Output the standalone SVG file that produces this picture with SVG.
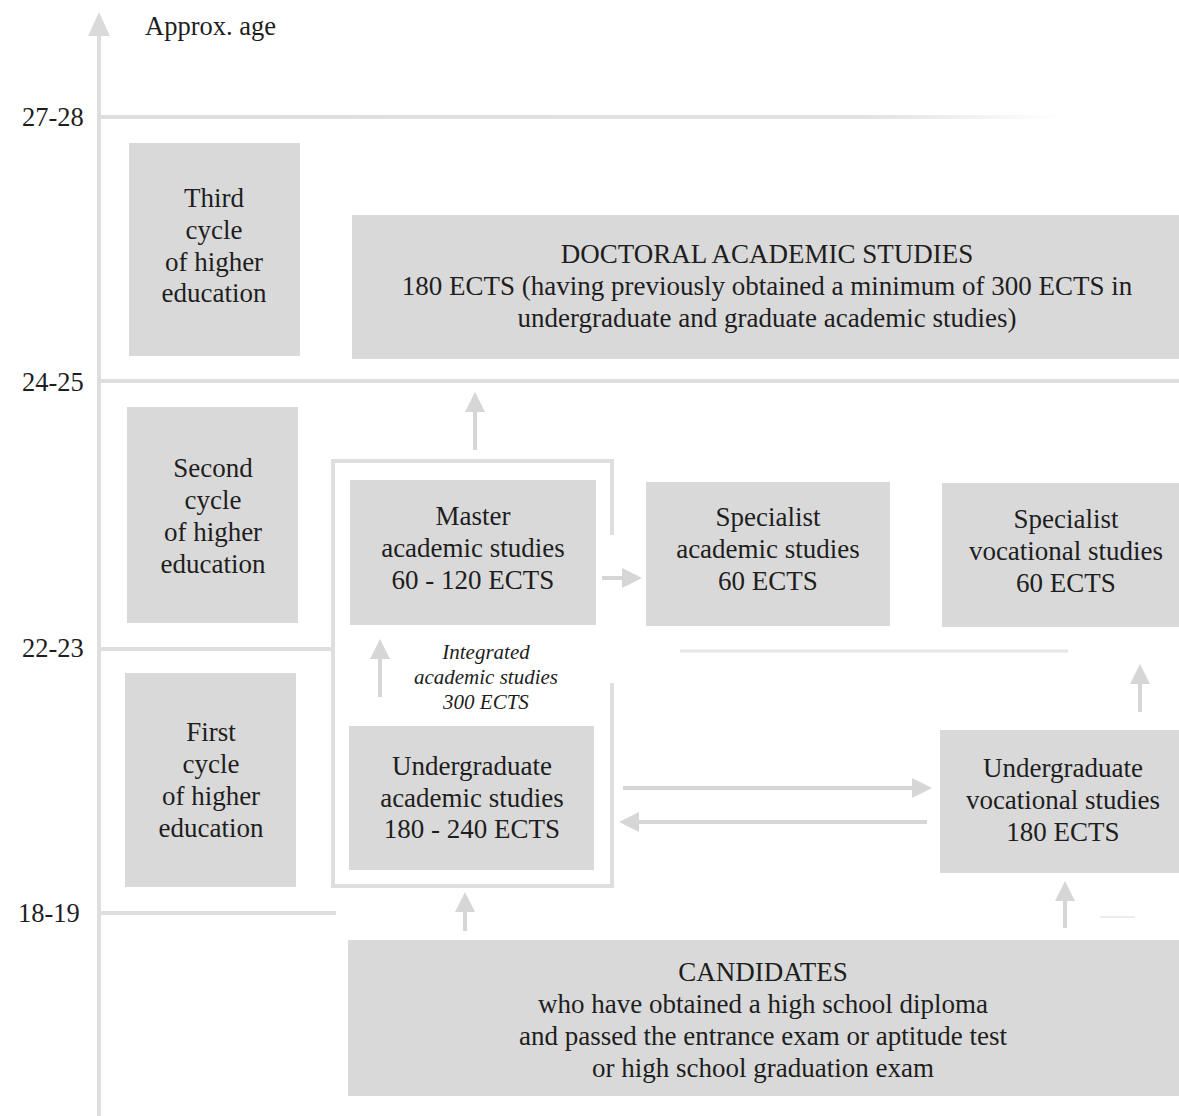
<svg xmlns="http://www.w3.org/2000/svg" width="1179" height="1116" viewBox="0 0 1179 1116">
  <defs>
    <style>
      .box { fill: #d9d9d9; }
      .t { font-family: "Liberation Serif", "DejaVu Serif", serif; font-size: 27px; fill: #1e1e1e; text-anchor: middle; }
      .age { font-family: "Liberation Serif", "DejaVu Serif", serif; font-size: 26.5px; fill: #1e1e1e; }
      .it { font-family: "Liberation Serif", "DejaVu Serif", serif; font-size: 21px; font-style: italic; fill: #1e1e1e; text-anchor: middle; }
      .grid { stroke: #dedede; stroke-width: 4; fill: none; }
      .conn { stroke: #d6d6d6; stroke-width: 4; fill: none; }
      .head { fill: #d6d6d6; }
    </style>
    <linearGradient id="fade" x1="0" y1="0" x2="1" y2="0">
      <stop offset="0" stop-color="#dedede"/>
      <stop offset="0.8" stop-color="#e2e2e2"/>
      <stop offset="1" stop-color="#ffffff"/>
    </linearGradient>
    <marker id="ah" viewBox="0 0 10 10" refX="8" refY="5" markerWidth="5" markerHeight="5" orient="auto" markerUnits="strokeWidth">
      <path d="M0,0 L10,5 L0,10 z" class="head"/>
    </marker>
  </defs>

  <rect width="1179" height="1116" fill="#ffffff"/>

  <!-- axis and grid -->
  <g id="axis">
    <line x1="99" y1="30" x2="99" y2="1116" class="grid"/>
    <polygon points="99,12 88,36 110,36" fill="#dadada"/>
    <text x="145" y="35" class="age">Approx. age</text>
    <rect x="101" y="115" width="960" height="4" fill="url(#fade)"/>
    <line x1="101" y1="381" x2="1179" y2="381" class="grid"/>
    <line x1="101" y1="649" x2="333" y2="649" class="grid"/>
    <line x1="680" y1="651" x2="1068" y2="651" stroke="#e6e6e6" stroke-width="3"/>
    <line x1="101" y1="913" x2="336" y2="913" class="grid"/>
    <line x1="1100" y1="917" x2="1135" y2="917" stroke="#ececec" stroke-width="2"/>
    <text x="22" y="126" class="age">27-28</text>
    <text x="22" y="391" class="age">24-25</text>
    <text x="22" y="657" class="age">22-23</text>
    <text x="18" y="922" class="age">18-19</text>
  </g>

  <!-- integrated frame -->
  <g id="integrated">
    <path d="M612,535 L612,461 L333,461 L333,886 L612,886 L612,683" class="grid"/>
    <text class="it" x="486" y="659">Integrated</text>
    <text class="it" x="486" y="684">academic studies</text>
    <text class="it" x="486" y="709">300 ECTS</text>
  </g>

  <g id="third-cycle">
    <rect class="box" x="129" y="143" width="171" height="213"/>
    <text class="t" x="214" y="207">Third</text>
    <text class="t" x="214" y="239">cycle</text>
    <text class="t" x="214" y="271">of higher</text>
    <text class="t" x="214" y="302">education</text>
  </g>

  <g id="doctoral">
    <rect class="box" x="352" y="215" width="827" height="144"/>
    <text class="t" x="767" y="263">DOCTORAL ACADEMIC STUDIES</text>
    <text class="t" x="767" y="295">180 ECTS (having previously obtained a minimum of 300 ECTS in</text>
    <text class="t" x="767" y="327">undergraduate and graduate academic studies)</text>
  </g>

  <g id="second-cycle">
    <rect class="box" x="127" y="407" width="171" height="216"/>
    <text class="t" x="213" y="477">Second</text>
    <text class="t" x="213" y="509">cycle</text>
    <text class="t" x="213" y="541">of higher</text>
    <text class="t" x="213" y="573">education</text>
  </g>

  <g id="master">
    <rect class="box" x="350" y="480" width="246" height="145"/>
    <text class="t" x="473" y="525">Master</text>
    <text class="t" x="473" y="557">academic studies</text>
    <text class="t" x="473" y="589">60 - 120 ECTS</text>
  </g>

  <g id="specialist-academic">
    <rect class="box" x="646" y="482" width="244" height="144"/>
    <text class="t" x="768" y="526">Specialist</text>
    <text class="t" x="768" y="558">academic studies</text>
    <text class="t" x="768" y="590">60 ECTS</text>
  </g>

  <g id="specialist-vocational">
    <rect class="box" x="942" y="483" width="237" height="144"/>
    <text class="t" x="1066" y="528">Specialist</text>
    <text class="t" x="1066" y="560">vocational studies</text>
    <text class="t" x="1066" y="592">60 ECTS</text>
  </g>

  <g id="first-cycle">
    <rect class="box" x="125" y="673" width="171" height="214"/>
    <text class="t" x="211" y="741">First</text>
    <text class="t" x="211" y="773">cycle</text>
    <text class="t" x="211" y="805">of higher</text>
    <text class="t" x="211" y="837">education</text>
  </g>

  <g id="undergraduate-academic">
    <rect class="box" x="349" y="726" width="245" height="144"/>
    <text class="t" x="472" y="775">Undergraduate</text>
    <text class="t" x="472" y="807">academic studies</text>
    <text class="t" x="472" y="838">180 - 240 ECTS</text>
  </g>

  <g id="undergraduate-vocational">
    <rect class="box" x="940" y="730" width="239" height="143"/>
    <text class="t" x="1063" y="777">Undergraduate</text>
    <text class="t" x="1063" y="809">vocational studies</text>
    <text class="t" x="1063" y="841">180 ECTS</text>
  </g>

  <g id="candidates">
    <rect class="box" x="348" y="940" width="831" height="156"/>
    <text class="t" x="763" y="981">CANDIDATES</text>
    <text class="t" x="763" y="1013">who have obtained a high school diploma</text>
    <text class="t" x="763" y="1045">and passed the entrance exam or aptitude test</text>
    <text class="t" x="763" y="1077">or high school graduation exam</text>
  </g>

  <g id="connectors">
    <line x1="475" y1="450" x2="475" y2="396" class="conn" marker-end="url(#ah)"/>
    <line x1="602" y1="578" x2="638" y2="578" class="conn" marker-end="url(#ah)"/>
    <line x1="380" y1="697" x2="380" y2="643" class="conn" marker-end="url(#ah)"/>
    <line x1="1140" y1="712" x2="1140" y2="668" class="conn" marker-end="url(#ah)"/>
    <line x1="623" y1="788" x2="928" y2="788" class="conn" marker-end="url(#ah)"/>
    <line x1="927" y1="822" x2="623" y2="822" class="conn" marker-end="url(#ah)"/>
    <line x1="465" y1="931" x2="465" y2="896" class="conn" marker-end="url(#ah)"/>
    <line x1="1065" y1="928" x2="1065" y2="885" class="conn" marker-end="url(#ah)"/>
  </g>
</svg>
